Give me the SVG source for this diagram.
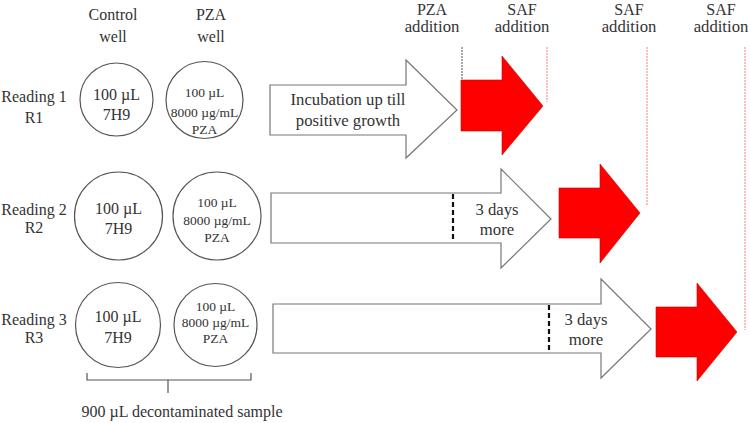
<svg xmlns="http://www.w3.org/2000/svg" width="750" height="423" viewBox="0 0 750 423" font-family="'Liberation Serif', serif">
<style>
text{fill:#333;text-anchor:middle}
.t16{font-size:16px}
.t17{font-size:16.7px}
.t13{font-size:13.5px}
.well{fill:#fff;stroke:#555;stroke-width:1.2}
.wa{fill:#fff;stroke:#777;stroke-width:1.2}
.ra{fill:#f00;stroke:#c00;stroke-width:0.6}
.dash{stroke:#111;stroke-width:2.2;stroke-dasharray:5,3}
.vk{stroke:#555;stroke-width:1;stroke-dasharray:2,1}
.vr{stroke:#f08080;stroke-width:1;stroke-dasharray:2,1}
</style>
<rect width="750" height="423" fill="#fff"/>
<g id="headers">
<text class="t16" x="113" y="20">Control</text>
<text class="t16" x="113" y="42">well</text>
<text class="t16" x="211" y="20">PZA</text>
<text class="t16" x="211" y="42">well</text>
<text class="t16" x="432" y="15">PZA</text>
<text class="t17" x="432" y="32">addition</text>
<text class="t16" x="522" y="15">SAF</text>
<text class="t17" x="522" y="32">addition</text>
<text class="t16" x="629" y="15">SAF</text>
<text class="t17" x="629" y="32">addition</text>
<text class="t16" x="721" y="15">SAF</text>
<text class="t17" x="721" y="32">addition</text>
</g>
<g id="guides">
<line class="vk" x1="462" y1="47" x2="462" y2="80"/>
<line class="vr" x1="547" y1="47" x2="547" y2="102"/>
<line class="vr" x1="647" y1="47" x2="647" y2="206"/>
<line class="vr" x1="745" y1="47" x2="745" y2="330"/>
</g>
<g id="row1">
<text class="t16" x="34" y="102">Reading 1</text>
<text class="t16" x="34" y="123">R1</text>
<g id="r1-control"><circle class="well" cx="116.5" cy="99.5" r="36.5"/>
<text class="t16" x="116.5" y="100">100 µL</text><text class="t16" x="116.5" y="120">7H9</text></g>
<g id="r1-pza"><circle class="well" cx="204.5" cy="100" r="38.5"/>
<text class="t13" x="204.5" y="97">100 µL</text><text class="t13" x="204.5" y="117">8000  µg/mL</text><text class="t13" x="204.5" y="134">PZA</text></g>
<g id="r1-incubation"><polygon class="wa" points="270,85 406,85 406,60 457,110 406,158 406,135 270,135"/>
<text class="t17" x="348" y="105">Incubation up till</text><text class="t17" x="348" y="126">positive growth</text></g>
<g id="r1-saf"><polygon class="ra" points="461,80 502,80 502,56 543,106 502,155 502,131 461,131"/></g>
</g>
<g id="row2">
<text class="t16" x="34" y="215">Reading 2</text>
<text class="t16" x="34" y="233">R2</text>
<g id="r2-control"><circle class="well" cx="118.5" cy="216" r="44"/>
<text class="t16" x="118.5" y="214">100 µL</text><text class="t16" x="118.5" y="234">7H9</text></g>
<g id="r2-pza"><circle class="well" cx="217" cy="216" r="44"/>
<text class="t13" x="217" y="207">100 µL</text><text class="t13" x="217" y="225">8000 µg/mL</text><text class="t13" x="217" y="242">PZA</text></g>
<g id="r2-incubation"><polygon class="wa" points="271,193 501,193 501,169 551,219 501,268 501,243 271,243"/>
<line class="dash" x1="453" y1="194" x2="453" y2="242"/>
<text class="t17" x="497" y="215">3 days</text><text class="t17" x="497" y="235">more</text></g>
<g id="r2-saf"><polygon class="ra" points="559,188 600,188 600,164 640,213 600,263 600,238 559,238"/></g>
</g>
<g id="row3">
<text class="t16" x="34" y="325">Reading 3</text>
<text class="t16" x="34" y="343">R3</text>
<g id="r3-control"><circle class="well" cx="118" cy="325" r="42.5"/>
<text class="t16" x="118" y="322">100 µL</text><text class="t16" x="118" y="343">7H9</text></g>
<g id="r3-pza"><circle class="well" cx="215.5" cy="325" r="41.5"/>
<text class="t13" x="215.5" y="311">100 µL</text><text class="t13" x="215.5" y="327">8000 µg/mL</text><text class="t13" x="215.5" y="343">PZA</text></g>
<g id="r3-incubation"><polygon class="wa" points="273,304 601,304 601,279 651,329 601,378 601,353 273,353"/>
<line class="dash" x1="549" y1="305" x2="549" y2="352"/>
<text class="t17" x="586" y="325">3 days</text><text class="t17" x="586" y="345">more</text></g>
<g id="r3-saf"><polygon class="ra" points="656,307 697,307 697,283 737,332 697,381 697,357 656,357"/></g>
</g>
<g id="sample">
<path d="M87,373 V380 H251 V373 M168,380 V393" fill="none" stroke="#555" stroke-width="1.2"/>
<text class="t16" x="182" y="417">900 µL decontaminated sample</text>
</g>
</svg>
